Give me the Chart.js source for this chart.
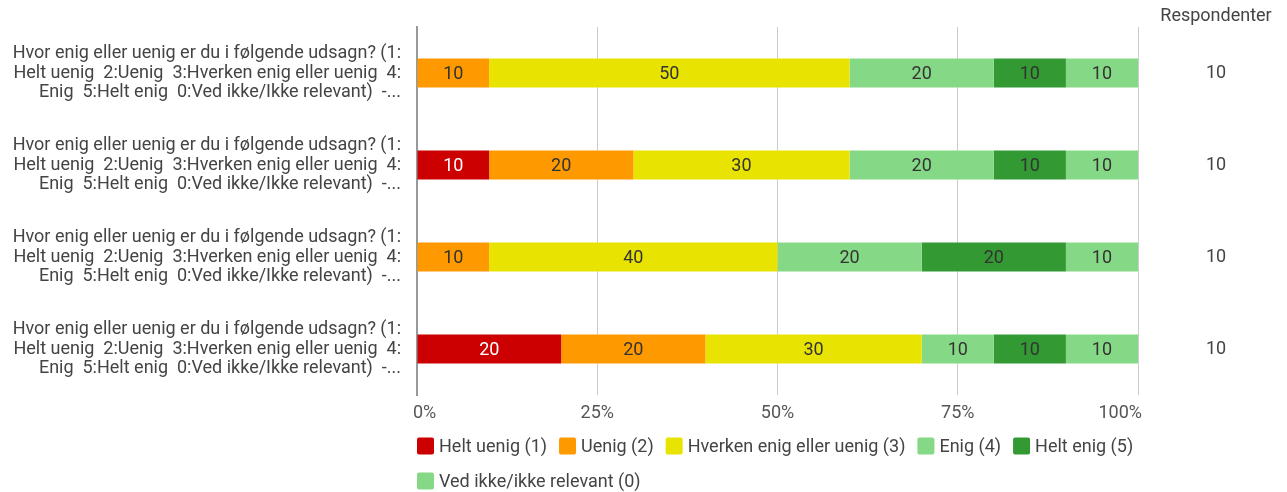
<!DOCTYPE html>
<html>
<head>
<meta charset="utf-8">
<script src="https://cdn.jsdelivr.net/npm/chart.js"></script>
<style>
  html, body { margin: 0; padding: 0; background: #fff; }
  #wrap { width: 1287px; height: 492px; }
</style>
</head>
<body>
<div id="wrap"><canvas id="chart"></canvas></div>
<script>
const question = ['Hvor enig eller uenig er du i følgende udsagn? (1:',
                  'Helt uenig  2:Uenig  3:Hverken enig eller uenig  4:',
                  'Enig  5:Helt enig  0:Ved ikke/Ikke relevant)  -...'];
const categories = [question, question, question, question];
const seriesNames = ['Helt uenig (1)', 'Uenig (2)', 'Hverken enig eller uenig (3)', 'Enig (4)', 'Helt enig (5)', 'Ved ikke/ikke relevant (0)'];
const seriesColors = ['#cc0000', '#ff9900', '#e8e300', '#85d885', '#339933', '#85d885'];
const heltUenig = [0, 10, 0, 20];
const uenig = [10, 20, 10, 20];
const hverken = [50, 30, 40, 30];
const enig = [20, 20, 20, 10];
const heltEnig = [10, 10, 20, 10];
const vedIkke = [10, 10, 10, 10];
const respondents = [10, 10, 10, 10];
const xTicks = [0, 25, 50, 75, 100];

const seriesValues = [heltUenig, uenig, hverken, enig, heltEnig, vedIkke];
const FONT = 'Roboto, "Noto Sans", sans-serif';
const FS = 18;

// values inside the bars
const barLabels = {
  id: 'barLabels',
  afterDatasetsDraw(chart) {
    const ctx = chart.ctx;
    ctx.save();
    ctx.font = FS + 'px ' + FONT;
    ctx.textAlign = 'center';
    ctx.textBaseline = 'middle';
    chart.data.datasets.forEach((ds, i) => {
      chart.getDatasetMeta(i).data.forEach((bar, j) => {
        const v = ds.data[j];
        if (!v) return;
        ctx.fillStyle = i === 0 ? '#ffffff' : '#333333';
        ctx.fillText(String(v), (bar.x + bar.base) / 2, bar.y + 1);
      });
    });
    ctx.restore();
  }
};

// x tick labels, first and last kept inside the plot
const xLabels = {
  id: 'xLabels',
  afterDraw(chart) {
    const ctx = chart.ctx;
    const x = chart.scales.x;
    const y = chart.chartArea.bottom + 18;
    ctx.save();
    ctx.font = FS + 'px ' + FONT;
    ctx.fillStyle = '#555555';
    ctx.textBaseline = 'middle';
    xTicks.forEach((v, i) => {
      let px = x.getPixelForValue(v);
      if (i === 0) { ctx.textAlign = 'left'; px -= 4; }
      else if (i === xTicks.length - 1) { ctx.textAlign = 'right'; px += 4; }
      else ctx.textAlign = 'center';
      ctx.fillText(v + '%', px, y);
    });
    ctx.restore();
  }
};

// Respondenter column on the right
const respondentColumn = {
  id: 'respondentColumn',
  afterDraw(chart) {
    const ctx = chart.ctx;
    const y = chart.scales.y;
    const cx = 1216;
    ctx.save();
    ctx.font = FS + 'px ' + FONT;
    ctx.fillStyle = '#444444';
    ctx.textAlign = 'center';
    ctx.textBaseline = 'middle';
    ctx.fillText('Respondenter', cx, 16);
    respondents.forEach((r, i) => {
      ctx.fillText(String(r), cx, y.getPixelForValue(i));
    });
    ctx.restore();
  }
};

// left aligned legend under the plot
const bottomLegend = {
  id: 'bottomLegend',
  afterDraw(chart) {
    const ctx = chart.ctx;
    const area = chart.chartArea;
    const box = 17, gap = 5, itemGap = 12, rowH = 35;
    let x = area.left, y = 446;
    ctx.save();
    ctx.font = FS + 'px ' + FONT;
    ctx.textBaseline = 'middle';
    ctx.textAlign = 'left';
    chart.data.datasets.forEach(ds => {
      const w = box + gap + ctx.measureText(ds.label).width;
      if (x > area.left && x + w > area.right) { x = area.left; y += rowH; }
      ctx.fillStyle = ds.backgroundColor;
      ctx.beginPath();
      ctx.roundRect(x, y - box / 2, box, box, 2);
      ctx.fill();
      ctx.fillStyle = '#444444';
      ctx.fillText(ds.label, x + box + gap, y + 1);
      x += w + itemGap;
    });
    ctx.restore();
  }
};

new Chart(document.getElementById('chart'), {
  type: 'bar',
  data: {
    labels: categories,
    datasets: seriesNames.map((name, i) => ({
      label: name,
      data: seriesValues[i],
      backgroundColor: seriesColors[i],
      borderWidth: 0,
      barPercentage: 0.315,
      categoryPercentage: 1
    }))
  },
  options: {
    indexAxis: 'y',
    responsive: true,
    maintainAspectRatio: false,
    animation: false,
    layout: { padding: { top: 27, right: 149, left: 0, bottom: 67 } },
    scales: {
      x: {
        stacked: true,
        min: 0,
        max: 100,
        afterBuildTicks(scale) { scale.ticks = xTicks.map(v => ({ value: v })); },
        afterFit(scale) { scale.height = 30; scale.paddingLeft = 0; scale.paddingRight = 0; },
        ticks: { display: false },
        grid: { color: '#cccccc', drawTicks: false },
        border: { display: false }
      },
      y: {
        stacked: true,
        afterFit(scale) {
          scale.width = 417;
          scale.paddingTop = 0;
          scale.paddingBottom = 0;
        },
        ticks: {
          color: '#444444',
          font: { family: FONT, size: FS, lineHeight: 19.5 / 18 },
          padding: 16
        },
        grid: { display: false, drawTicks: false },
        border: { display: true, color: '#999999', width: 2 }
      }
    },
    plugins: {
      legend: { display: false },
      tooltip: { enabled: false }
    }
  },
  plugins: [barLabels, xLabels, respondentColumn, bottomLegend]
});
</script>
</body>
</html>
